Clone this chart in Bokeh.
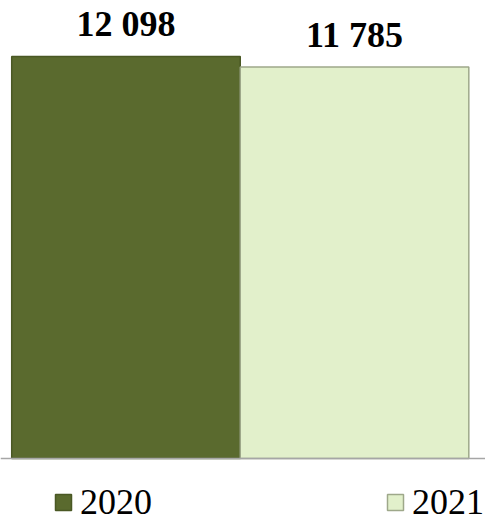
from bokeh.plotting import figure
from bokeh.models import ColumnDataSource, LabelSet, Legend, LegendItem, Span
from bokeh.embed import file_html
from bokeh.resources import INLINE

years = ["2020", "2021"]
values = [12098, 11785]
labels = ["12 098", "11 785"]
colors = ["#5a6a2e", "#e2f0cb"]
edges = ["#4a5824", "#9ea88a"]
xpos = [0, 1]

src = ColumnDataSource(dict(x=xpos, top=values, label=labels, color=colors, edge=edges, year=years))

p = figure(width=485, height=520, x_range=(-0.549, 1.573), y_range=(-1866, 13783),
           output_backend="svg", toolbar_location=None, min_border=0)
p.xaxis.visible = False
p.yaxis.visible = False
p.xgrid.visible = False
p.ygrid.visible = False
p.outline_line_color = None

r0 = p.vbar(x=[xpos[0]], top=[values[0]], width=1, fill_color=colors[0], line_color=edges[0], line_width=1.5)
r1 = p.vbar(x=[xpos[1]], top=[values[1]], width=1, fill_color=colors[1], line_color=edges[1], line_width=1.5)

p.add_layout(Span(location=0, dimension="width", line_color="#a6a6a6", line_width=1.5))

lbl = LabelSet(x="x", y="top", text="label", source=src, text_align="center", text_baseline="alphabetic",
               y_offset=20, text_font="Liberation Serif", text_font_style="bold", text_font_size="36px",
               text_color="black")
p.add_layout(lbl)

for r, yr, xloc in [(r0, years[0], 53), (r1, years[1], 385)]:
    lg = Legend(items=[LegendItem(label=yr, renderers=[r])], location=(xloc, -3),
                glyph_width=20, glyph_height=20, label_standoff=7, padding=0, margin=0,
                border_line_color=None, background_fill_alpha=0,
                label_text_font="Liberation Serif", label_text_font_size="36px", label_text_color="black")
    p.add_layout(lg, "center")

open("out.html", "w").write(file_html(p, INLINE))
